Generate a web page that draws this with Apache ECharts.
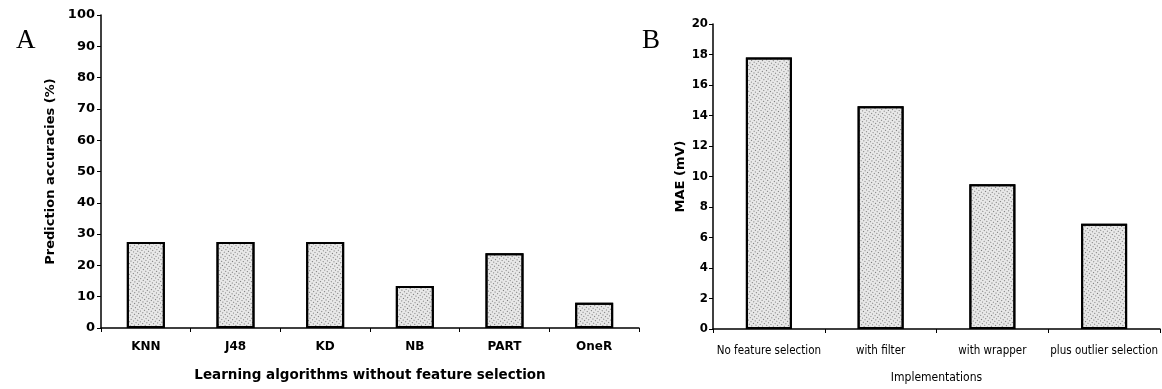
<!DOCTYPE html>
<html>
<head>
<meta charset="utf-8">
<title>Accuracy and MAE</title>
<script src="https://cdn.jsdelivr.net/npm/echarts@6/dist/echarts.min.js"></script>
<style>
  html, body { margin: 0; padding: 0; background: #fff; }
  #chart { width: 1162px; height: 389px; }
</style>
</head>
<body>
<div id="chart"></div>
<script>
// panel A
var algoNames = ['KNN', 'J48', 'KD', 'NB', 'PART', 'OneR'];
var accuracies = [27.5, 27.5, 27.5, 13.4, 23.9, 8.1];
// panel B
var implNames = ['No feature selection', 'with filter', 'with wrapper', 'plus outlier selection'];
var maeValues = [17.8, 14.6, 9.5, 6.9];

var chart = echarts.init(document.getElementById('chart'));

var dots = {
  symbol: 'rect',
  symbolSize: 1,
  dashArrayX: [1, 2],
  dashArrayY: [1, 2],
  rotation: 0.6,
  color: 'rgba(0,0,0,0.5)'
};
var barStyle = { color: '#e8e8e8', borderColor: '#000', borderWidth: 2, decal: dots };
var axisLine = { show: true, lineStyle: { color: '#000', width: 1.5 } };
var letterStyle = { fontFamily: 'Liberation Serif', fontSize: 27, fontWeight: 'normal', color: '#000' };

var option = {
  animation: false,
  aria: { enabled: false },
  title: [
    { text: 'A', left: 11, top: 22, textStyle: letterStyle },
    { text: 'B', left: 637, top: 22, textStyle: letterStyle }
  ],
  grid: [
    { left: 101, top: 15, width: 538, height: 313 },
    { left: 713, top: 24, width: 447, height: 307 }
  ],
  xAxis: [
    {
      gridIndex: 0, type: 'category', data: algoNames,
      name: 'Learning algorithms without feature selection',
      nameLocation: 'middle', nameGap: 40,
      nameTextStyle: { fontFamily: 'DejaVu Sans', fontWeight: 'bold', fontSize: 13.5, color: '#000' },
      axisLine: axisLine,
      axisTick: { show: true, length: 4, lineStyle: { color: '#000' } },
      axisLabel: { fontFamily: 'DejaVu Sans', fontWeight: 'bold', fontSize: 12, color: '#000', margin: 13 }
    },
    {
      gridIndex: 1, type: 'category', data: implNames,
      name: 'Implementations',
      nameLocation: 'middle', nameGap: 43,
      nameTextStyle: { fontFamily: 'DejaVu Sans Condensed', fontSize: 12, color: '#000' },
      axisLine: axisLine,
      axisTick: { show: true, length: 4, lineStyle: { color: '#000' } },
      axisLabel: { interval: 0, fontFamily: 'DejaVu Sans Condensed', fontSize: 11.5, color: '#000', margin: 16 }
    }
  ],
  yAxis: [
    {
      gridIndex: 0, type: 'value', min: 0, max: 100, interval: 10,
      name: 'Prediction accuracies (%)',
      nameLocation: 'middle', nameGap: 44,
      nameTextStyle: { fontFamily: 'DejaVu Sans', fontWeight: 'bold', fontSize: 13, color: '#000' },
      axisLine: axisLine,
      axisTick: { show: true, length: 4, lineStyle: { color: '#000' } },
      axisLabel: { fontFamily: 'DejaVu Sans', fontWeight: 'bold', fontSize: 13, color: '#000', margin: 6 },
      splitLine: { show: false }
    },
    {
      gridIndex: 1, type: 'value', min: 0, max: 20, interval: 2,
      name: 'MAE (mV)',
      nameLocation: 'middle', nameGap: 26,
      nameTextStyle: { fontFamily: 'DejaVu Sans', fontWeight: 'bold', fontSize: 13, color: '#000' },
      axisLine: axisLine,
      axisTick: { show: true, length: 4, lineStyle: { color: '#000' } },
      axisLabel: { fontFamily: 'DejaVu Sans Condensed', fontWeight: 'bold', fontSize: 13, color: '#000', margin: 5 },
      splitLine: { show: false }
    }
  ],
  series: [
    { type: 'bar', xAxisIndex: 0, yAxisIndex: 0, data: accuracies, barWidth: 38, itemStyle: barStyle },
    { type: 'bar', xAxisIndex: 1, yAxisIndex: 1, data: maeValues, barWidth: 46, itemStyle: barStyle }
  ]
};
chart.setOption(option);
</script>
</body>
</html>
